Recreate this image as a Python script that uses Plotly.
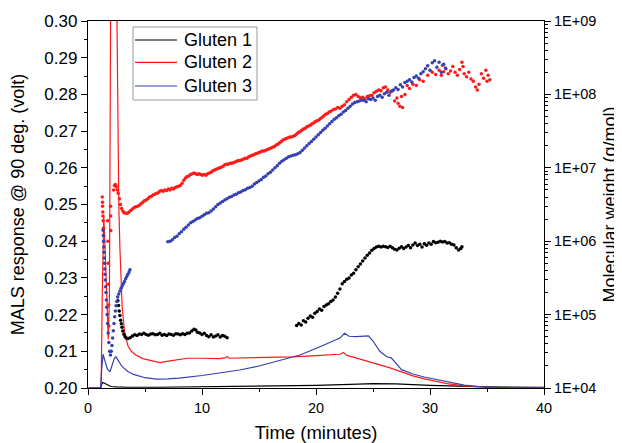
import plotly.graph_objects as go

# ---------------- MALS response (left axis, volt) ----------------
g1_t = [0, 1.1, 1.2, 1.3, 1.45, 1.7, 2.0, 2.5, 3.5, 6, 10, 15, 20, 23, 25, 27, 30, 35, 40]
g1_v = [0.2000, 0.2000, 0.2010, 0.2015, 0.2013, 0.2008, 0.2004, 0.2003, 0.2002, 0.2002, 0.2003,
        0.2004, 0.2007, 0.2010, 0.2012, 0.2011, 0.2007, 0.2003, 0.2002]

g2_t = [0, 1.15, 1.25, 1.32, 1.38, 1.5, 1.65, 1.78, 1.88, 1.96, 2.02, 2.45, 2.55, 2.62, 2.7, 2.8,
        2.9, 3.0, 3.2, 3.5, 3.8, 4.2, 4.8, 5.5, 6.3, 7.2, 8.0, 8.7, 10, 11.5, 12.0, 12.2, 12.4,
        14, 16, 17, 18, 20, 21.5, 22.1, 22.4, 22.7, 23.2, 24, 25, 26, 26.5, 27.5, 28.5, 29.5,
        30.5, 31.5, 33, 35, 37, 40]
g2_v = [0.2000, 0.2000, 0.2250, 0.2450, 0.2470, 0.2380, 0.2220, 0.2132, 0.2250, 0.2700, 0.3300,
        0.3300, 0.3000, 0.2700, 0.2500, 0.2380, 0.2290, 0.2220, 0.2155, 0.2115, 0.2100, 0.2090,
        0.2080, 0.2074, 0.2069, 0.2074, 0.2078, 0.2081, 0.2081, 0.2080, 0.2082, 0.2086, 0.2081,
        0.2082, 0.2082, 0.2083, 0.2085, 0.2088, 0.2090, 0.2092, 0.2097, 0.2089, 0.2085, 0.2078,
        0.2068, 0.2060, 0.2055, 0.2044, 0.2033, 0.2025, 0.2018, 0.2012, 0.2006, 0.2002, 0.2001,
        0.2000]

g3_t = [0, 1.1, 1.2, 1.32, 1.5, 1.7, 1.93, 2.1, 2.3, 2.45, 2.7, 3.0, 3.5, 4.0, 5.0, 6.0, 7.0,
        8.0, 10, 12, 13.3, 15, 16.8, 18.6, 20.4, 22.1, 22.5, 22.9, 23.5, 24.0, 24.6, 25.0, 25.6,
        26.2, 26.6, 27.5, 28.5, 29.5, 31, 33, 35, 37, 40]
g3_v = [0.2000, 0.2000, 0.2050, 0.2092, 0.2072, 0.2052, 0.2044, 0.2062, 0.2080, 0.2085, 0.2073,
        0.2058, 0.2045, 0.2037, 0.2028, 0.2024, 0.2025, 0.2027, 0.2034, 0.2042, 0.2049, 0.2060,
        0.2076, 0.2090, 0.2113, 0.2136, 0.2149, 0.2141, 0.2140, 0.2140, 0.2142, 0.2128, 0.2100,
        0.2085, 0.2082, 0.2050, 0.2038, 0.2030, 0.2020, 0.2008, 0.2002, 0.2001, 0.2000]

# ---------------- Molecular weight (right axis, g/mol) ----------------
g1_mw_t = [2.62, 2.68, 2.74, 2.80, 2.86, 2.92, 2.98, 3.05, 3.15, 3.25, 3.35, 3.5, 3.7, 3.9, 4.1,
           4.3, 4.5, 4.7, 4.9, 5.1, 5.3, 5.5, 5.7, 5.9, 6.1, 6.3, 6.5, 6.7, 6.9, 7.1, 7.3, 7.5,
           7.7, 7.9, 8.1, 8.3, 8.5, 8.7, 8.9, 9.1, 9.3, 9.45, 9.6, 9.8, 10.0, 10.2, 10.4, 10.6,
           10.8, 11.0, 11.2, 11.4, 11.6, 11.8, 12.0, 12.2,
           18.3, 18.5, 18.7, 18.9, 19.1, 19.3, 19.5, 19.7, 19.9, 20.1, 20.3, 20.5, 20.7, 20.9,
           21.1, 21.3, 21.5, 21.7, 21.9, 22.1, 22.3, 22.5, 22.7, 22.9, 23.1, 23.3, 23.5, 23.7,
           23.9, 24.1, 24.3, 24.5, 24.7, 24.9, 25.1, 25.3, 25.5, 25.7, 25.9, 26.1, 26.3, 26.5,
           26.7, 26.9, 27.1, 27.3, 27.5, 27.7, 27.9, 28.1, 28.3, 28.5, 28.7, 28.9, 29.1, 29.3,
           29.5, 29.7, 29.9, 30.1, 30.3, 30.5, 30.7, 30.9, 31.1, 31.3, 31.5, 31.7, 31.9, 32.1,
           32.3, 32.5, 32.7, 32.8]
g1_mw = [1.55e5, 1.33e5, 1.12e5, 9.7e4, 8.4e4, 7.5e4, 6.7e4, 6.0e4, 5.4e4, 5.0e4, 4.8e4, 4.73e4,
         4.84e4, 5.13e4, 5.31e4, 5.19e4, 5.43e4, 5.37e4, 5.56e4, 5.37e4, 5.25e4, 5.43e4, 5.5e4,
         5.31e4, 5.37e4, 5.56e4, 5.25e4, 5.37e4, 5.19e4, 5.43e4, 5.37e4, 5.25e4, 5.5e4, 5.43e4,
         5.31e4, 5.5e4, 5.37e4, 5.56e4, 5.62e4, 5.96e4, 6.31e4, 6.17e4, 5.75e4, 5.62e4, 5.37e4,
         5.56e4, 5.19e4, 5.01e4, 5.31e4, 4.95e4, 5.13e4, 5.31e4, 4.95e4, 5.19e4, 5.07e4, 4.84e4,
         7.08e4, 7.59e4, 7.24e4, 8.22e4, 7.94e4, 8.91e4, 9.55e4, 9.23e4, 1.04e5, 1.10e5, 1.19e5,
         1.15e5, 1.29e5, 1.35e5, 1.41e5, 1.51e5, 1.58e5, 1.74e5, 1.95e5, 2.24e5, 2.63e5, 2.82e5,
         3.02e5, 3.16e5, 3.47e5, 3.67e5, 4.07e5, 4.47e5, 4.90e5, 5.37e5, 5.89e5, 6.46e5, 6.92e5,
         7.50e5, 7.94e5, 8.32e5, 8.51e5, 8.32e5, 8.51e5, 8.41e5, 8.22e5, 8.51e5, 8.13e5, 7.76e5,
         7.59e5, 8.04e5, 8.41e5, 7.94e5, 8.32e5, 8.71e5, 8.13e5, 8.91e5, 9.44e5, 8.71e5, 9.12e5,
         8.32e5, 9.23e5, 8.81e5, 9.44e5, 9.12e5, 9.89e5, 9.55e5, 9.66e5, 1.0e6, 9.77e5, 9.89e5,
         9.44e5, 9.55e5, 9.12e5, 8.91e5, 8.13e5, 7.59e5, 7.94e5, 8.41e5]

g2_mw_t = [1.25, 1.27, 1.28, 1.30, 1.31, 1.33, 1.35, 1.38, 1.72, 1.75, 1.77, 1.79, 1.81, 1.83,
           1.98, 1.99, 2.00,
           2.25, 2.32, 2.40, 2.48, 2.56, 2.65, 2.75, 2.85, 2.95, 3.05, 3.15, 3.3, 3.45, 3.6, 3.75,
           3.9, 4.05, 4.2, 4.35, 4.5, 4.65, 4.8, 4.95, 5.1, 5.25, 5.4, 5.55, 5.7, 5.85, 6.0,
           6.15, 6.3, 6.45, 6.6, 6.75, 6.9, 7.05, 7.2, 7.35, 7.5, 7.65, 7.8, 7.95, 8.1, 8.25,
           8.4, 8.55, 8.7, 8.85, 9.0, 9.15, 9.3, 9.45, 9.6, 9.75, 9.9, 10.05, 10.2, 10.35, 10.5,
           10.65, 10.8, 10.95, 11.1, 11.25, 11.4, 11.55, 11.7, 11.85, 12.0, 12.15, 12.3, 12.45,
           12.6, 12.75, 12.9, 13.05, 13.2, 13.35, 13.5, 13.65, 13.8, 13.95, 14.1, 14.25, 14.4,
           14.55, 14.7, 14.85, 15.0, 15.15, 15.3, 15.45, 15.6, 15.75, 15.9, 16.05, 16.2, 16.35,
           16.5, 16.65, 16.8, 16.95, 17.1, 17.25, 17.4, 17.55, 17.7, 17.85, 18.0, 18.15, 18.3,
           18.45, 18.6, 18.75, 18.9, 19.05, 19.2, 19.35, 19.5, 19.65, 19.8, 19.95, 20.1, 20.25,
           20.4, 20.55, 20.7, 20.85, 21.0, 21.15, 21.3, 21.5, 21.7, 21.9, 22.1, 22.3, 22.5, 22.7,
           22.9, 23.1, 23.3, 23.5, 23.7, 23.9, 24.1, 24.3, 24.5, 24.7, 24.9, 25.1, 25.3, 25.5,
           25.7, 25.9, 26.1, 26.3, 26.5, 26.7, 26.9, 27.1, 27.2, 27.35, 27.5, 27.6, 27.8, 28.0,
           28.2, 28.5, 28.8, 29.1, 29.4, 29.8, 30.2, 30.5, 30.8, 31.0, 31.1, 31.2, 31.4, 31.6,
           31.8, 32.0, 32.2, 32.4, 32.6, 32.8, 32.9, 33.0, 33.2, 33.4, 33.6, 33.8, 34.0, 34.15,
           34.3, 34.5, 34.7, 34.9, 35.0, 35.1, 35.25]
g2_mw = [4.0e6, 3.4e6, 3.0e6, 2.5e6, 2.2e6, 1.9e6, 1.5e6, 1.2e6, 1.9e6, 1.0e6, 5.0e5, 2.6e5,
         1.35e5, 7.0e4,
         3.0e6, 2.2e6, 1.4e6,
         5.0e6, 5.75e6, 5.9e6, 5.5e6, 5.0e6, 4.5e6, 3.8e6, 3.16e6, 2.8e6, 2.57e6, 2.45e6,
         2.4e6, 2.4e6, 2.5e6, 2.63e6, 2.75e6, 2.88e6, 2.95e6, 3.0e6, 3.1e6, 3.24e6, 3.4e6,
         3.55e6, 3.63e6, 3.8e6, 4.0e6, 4.07e6, 4.27e6, 4.37e6, 4.47e6, 4.57e6, 4.79e6, 4.9e6,
         4.79e6, 5.0e6, 4.9e6, 5.13e6, 5.0e6, 5.25e6, 5.13e6, 5.37e6, 5.5e6, 5.62e6, 5.75e6,
         6.17e6, 6.76e6, 7.24e6, 7.59e6, 7.76e6, 8.13e6, 8.32e6, 8.5e6, 8.32e6, 8.13e6, 8.32e6,
         8.13e6, 7.94e6, 8.13e6, 7.94e6, 8.32e6, 8.5e6, 8.71e6, 9.12e6, 9.33e6, 9.55e6, 9.77e6,
         1.0e7, 1.02e7, 1.05e7, 1.10e7, 1.12e7, 1.12e7, 1.15e7, 1.15e7, 1.17e7, 1.20e7, 1.23e7,
         1.26e7, 1.26e7, 1.29e7, 1.32e7, 1.35e7, 1.35e7, 1.41e7, 1.45e7, 1.48e7, 1.51e7,
         1.55e7, 1.58e7, 1.62e7, 1.66e7, 1.70e7, 1.70e7, 1.74e7, 1.78e7, 1.82e7, 1.86e7,
         1.91e7, 1.95e7, 2.04e7, 2.09e7, 2.19e7, 2.29e7, 2.40e7, 2.45e7, 2.51e7, 2.57e7,
         2.63e7, 2.63e7, 2.69e7, 2.75e7, 2.88e7, 3.02e7, 3.09e7, 3.24e7, 3.39e7, 3.47e7,
         3.63e7, 3.72e7, 3.80e7, 3.98e7, 4.07e7, 4.27e7, 4.37e7, 4.47e7, 4.68e7, 4.9e7, 5.13e7,
         5.37e7, 5.5e7, 5.75e7, 5.89e7, 6.17e7, 6.31e7, 6.61e7, 6.46e7, 6.92e7, 7.24e7, 7.94e7,
         8.5e7, 9.12e7, 9.77e7, 1.0e8, 9.33e7, 8.91e7, 9.12e7, 8.71e7, 9.33e7, 9.55e7, 9.77e7,
         1.05e8, 1.10e8, 1.15e8, 1.12e8, 1.23e8, 1.26e8, 1.15e8, 1.07e8, 1.12e8, 8.13e7,
         8.91e7, 7.59e7, 6.92e7, 9.33e7, 6.61e7, 1.0e8, 1.32e8, 1.2e8, 1.38e8, 1.32e8, 1.58e8,
         1.51e8, 1.82e8, 2.0e8, 1.86e8, 2.14e8, 1.82e8, 2.5e8, 2.04e8, 2.24e8, 1.91e8, 2.09e8,
         2.4e8, 2.0e8, 1.82e8, 2.19e8, 2.75e8, 2.4e8, 1.91e8, 1.74e8, 2.0e8, 1.62e8, 1.51e8,
         1.26e8, 1.15e8, 1.38e8, 1.91e8, 1.66e8, 2.14e8, 1.51e8, 1.82e8, 1.58e8]

g3_mw_t = [1.32, 1.35, 1.37, 1.39, 1.41, 1.43, 1.45, 1.47, 1.49, 1.52, 1.55, 1.58, 1.61, 1.64,
           1.68, 1.72, 1.77, 1.83, 1.90, 1.97, 2.04, 2.10, 2.16, 2.22, 2.28, 2.34, 2.40, 2.46,
           2.52, 2.6, 2.7, 2.8, 2.9, 3.0, 3.1, 3.2, 3.3, 3.4, 3.5, 3.6, 3.68,
           7.0, 7.2, 7.4, 7.6, 7.8, 8.0, 8.2, 8.4, 8.6, 8.8, 9.0, 9.2, 9.4, 9.6, 9.8, 10.0,
           10.2, 10.4, 10.6, 10.8, 11.0, 11.2, 11.4, 11.6, 11.8, 12.0, 12.2, 12.4, 12.6, 12.8,
           13.0, 13.2, 13.4, 13.6, 13.8, 14.0, 14.2, 14.4, 14.6, 14.8, 15.0, 15.2, 15.4, 15.6,
           15.8, 16.0, 16.2, 16.4, 16.6, 16.8, 17.0, 17.2, 17.4, 17.6, 17.8, 18.0, 18.2, 18.4,
           18.6, 18.8, 19.0, 19.2, 19.4, 19.6, 19.8, 20.0, 20.2, 20.4, 20.6, 20.8, 21.0, 21.2,
           21.4, 21.6, 21.8, 22.0, 22.2, 22.4, 22.6, 22.8, 23.0, 23.2, 23.4, 23.6, 23.8, 24.0,
           24.2, 24.4, 24.6, 24.8, 25.0, 25.2, 25.4, 25.6, 25.8, 26.0, 26.2, 26.4, 26.6, 26.8,
           27.0, 27.2, 27.4, 27.6, 27.8, 28.0, 28.2, 28.4, 28.6, 28.8, 29.0, 29.2, 29.4, 29.6,
           29.8, 30.0, 30.2, 30.4, 30.6, 30.8, 31.0, 31.2, 31.35]
g3_mw = [1.41e6, 1.20e6, 1.0e6, 8.32e5, 7.08e5, 5.89e5, 5.01e5, 4.17e5, 3.55e5, 2.95e5, 2.40e5,
         2.0e5, 1.58e5, 1.26e5, 1.0e5, 7.59e4, 5.62e4, 4.17e4, 3.16e4, 2.82e4, 3.16e4, 3.8e4,
         4.79e4, 6.03e4, 7.59e4, 9.33e4, 1.12e5, 1.32e5, 1.51e5, 1.74e5, 1.91e5, 2.09e5,
         2.29e5, 2.45e5, 2.63e5, 2.82e5, 3.09e5, 3.31e5, 3.55e5, 3.80e5, 4.07e5,
         9.8e5, 1.0e6, 1.05e6, 1.12e6, 1.17e6, 1.26e6, 1.35e6, 1.45e6, 1.55e6, 1.66e6, 1.78e6,
         1.86e6, 1.95e6, 2.04e6, 2.09e6, 2.19e6, 2.29e6, 2.40e6, 2.45e6, 2.57e6, 2.75e6,
         2.95e6, 3.16e6, 3.31e6, 3.47e6, 3.63e6, 3.80e6, 3.98e6, 4.07e6, 4.27e6, 4.37e6,
         4.57e6, 4.68e6, 4.90e6, 5.01e6, 5.25e6, 5.37e6, 5.62e6, 6.03e6, 6.31e6, 6.61e6,
         6.92e6, 7.41e6, 7.76e6, 8.32e6, 8.71e6, 9.33e6, 1.0e7, 1.07e7, 1.15e7, 1.23e7,
         1.29e7, 1.35e7, 1.41e7, 1.45e7, 1.48e7, 1.51e7, 1.55e7, 1.62e7, 1.74e7, 1.86e7,
         2.0e7, 2.14e7, 2.29e7, 2.45e7, 2.63e7, 2.82e7, 3.02e7, 3.24e7, 3.47e7, 3.72e7,
         3.98e7, 4.27e7, 4.57e7, 4.79e7, 5.13e7, 5.37e7, 5.75e7, 6.03e7, 6.46e7, 6.92e7,
         7.41e7, 7.76e7, 7.94e7, 8.13e7, 8.32e7, 8.32e7, 7.94e7, 8.71e7, 8.51e7, 8.91e7,
         8.32e7, 9.33e7, 9.77e7, 9.12e7, 1.02e8, 1.07e8, 9.77e7, 1.10e8, 1.15e8, 1.23e8,
         1.17e8, 1.35e8, 1.26e8, 1.45e8, 1.51e8, 1.58e8, 1.48e8, 1.70e8, 1.78e8, 1.66e8,
         1.91e8, 2.04e8, 2.24e8, 2.45e8, 2.14e8, 2.69e8, 2.88e8, 2.34e8, 2.75e8, 2.0e8,
         2.57e8, 2.29e8]

# ---------------- axis tick labels & legend text ----------------
x_ticks = [0, 10, 20, 30, 40]
left_ticks = [0.20, 0.21, 0.22, 0.23, 0.24, 0.25, 0.26, 0.27, 0.28, 0.29, 0.30]
right_tickvals = [1e4, 1e5, 1e6, 1e7, 1e8, 1e9]
right_ticktext = ["1E+04", "1E+05", "1E+06", "1E+07", "1E+08", "1E+09"]
series_names = ["Gluten 1", "Gluten 2", "Gluten 3"]

BLACK = "#000000"
RED = "#ff1a1a"
BLUE = "#3342b0"
COLORS = [BLACK, RED, BLUE]
FONT = "Liberation Sans, Arial, sans-serif"

fig = go.Figure()

for t, v, name, c in [(g1_t, g1_v, series_names[0], BLACK),
                      (g2_t, g2_v, series_names[1], RED),
                      (g3_t, g3_v, series_names[2], BLUE)]:
    fig.add_trace(go.Scatter(x=t, y=v, mode="lines", name=name, showlegend=False,
                             line=dict(color=c, width=1.2)))

for t, mw, name, c in [(g1_mw_t, g1_mw, series_names[0], BLACK),
                       (g2_mw_t, g2_mw, series_names[1], RED),
                       (g3_mw_t, g3_mw, series_names[2], BLUE)]:
    fig.add_trace(go.Scatter(x=t, y=mw, mode="markers", yaxis="y2", name=name + " Mw",
                             showlegend=False,
                             marker=dict(color=c, size=3.5, line=dict(width=0))))

# Legend box (drawn in paper coordinates, styled like the original's boxed legend)
shapes = [dict(type="rect", xref="paper", yref="paper", x0=0.0987, x1=0.3706,
               y0=0.7847, y1=0.9837, line=dict(color="#9a9a9a", width=1),
               fillcolor="white", layer="above")]
annotations = []
row_y = [0.9482, 0.8870, 0.8229]
for name, c, yy in zip(series_names, COLORS, row_y):
    shapes.append(dict(type="line", xref="paper", yref="paper", x0=0.1031, x1=0.1952,
                       y0=yy, y1=yy, line=dict(color=c, width=1.2), layer="above"))
    annotations.append(dict(xref="paper", yref="paper", x=0.2072, y=yy, text=name,
                            showarrow=False, xanchor="left", yanchor="middle",
                            font=dict(family=FONT, size=18, color="black")))

axis_common = dict(showline=True, linecolor="black", linewidth=1.3, ticks="outside",
                   tickcolor="black", tickwidth=1.2, showgrid=False, zeroline=False,
                   automargin=False)

fig.update_layout(
    width=614, height=435, autosize=False,
    margin=dict(l=80, r=78, t=13, b=55),
    paper_bgcolor="white", plot_bgcolor="white",
    font=dict(family=FONT, color="black"),
    showlegend=False,
    shapes=shapes,
    annotations=annotations,
    xaxis=dict(range=[0, 40], tickvals=x_ticks, ticklen=6, mirror=True,
               tickfont=dict(family=FONT, size=14.5, color="black"),
               minor=dict(dtick=5, tick0=0, ticks="outside", ticklen=3, tickcolor="black"),
               title=dict(text="Time (minutes)", font=dict(family=FONT, size=18.5), standoff=12),
               **axis_common),
    yaxis=dict(range=[0.2, 0.3], tickvals=left_ticks, tickformat=".2f", ticklen=6,
               tickfont=dict(family=FONT, size=17, color="black"),
               minor=dict(dtick=0.005, tick0=0.2, ticks="outside", ticklen=3, tickcolor="black"),
               title=dict(text="MALS response @ 90 deg. (volt)", font=dict(family=FONT, size=18),
                          standoff=22),
               **axis_common),
    yaxis2=dict(overlaying="y", side="right", type="log", range=[4, 9],
                tickvals=right_tickvals, ticktext=right_ticktext, ticklen=6,
                tickfont=dict(family=FONT, size=14.5, color="black"),
                minor=dict(dtick="D1", ticks="outside", ticklen=3, tickcolor="black"),
                title=dict(text="Molecular weight (g/mol)", font=dict(family=FONT, size=18),
                           standoff=8),
                **axis_common),
)

fig.write_html("out.html")
